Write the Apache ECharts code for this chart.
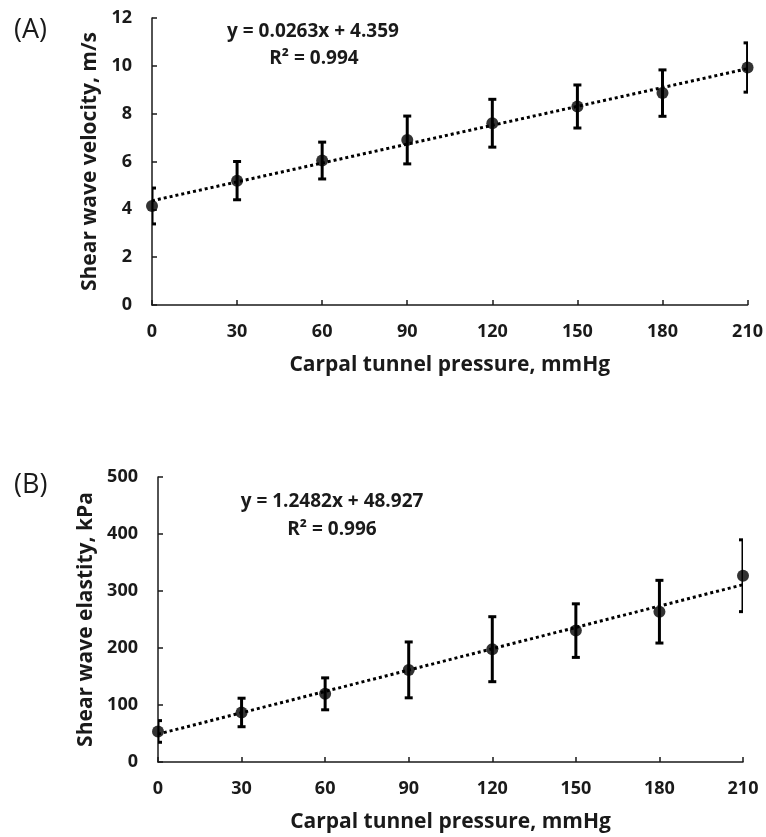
<!DOCTYPE html>
<html><head><meta charset="utf-8">
<script src="https://cdn.jsdelivr.net/npm/echarts@6/dist/echarts.min.js"></script>
<style>html,body{margin:0;padding:0;background:#fff}#c{width:766px;height:837px}</style>
</head><body><div id="c"></div>
<script>
// ---- data ----
const pressure = [0, 30, 60, 90, 120, 150, 180, 210];
const velocityMean = [4.14, 5.2, 6.04, 6.9, 7.6, 8.3, 8.86, 9.93];
const velocitySD = [0.75, 0.8, 0.77, 1.0, 1.0, 0.9, 0.97, 1.03];
const elasticityMean = [53.6, 86.9, 119.6, 161.6, 197.9, 230.5, 263.7, 326.8];
const elasticitySD = [19, 25, 28, 49, 57, 47, 55, 63];
const trendA = [0.0263, 4.359];   // slope, intercept
const trendB = [1.2482, 48.927];
const eqA = ['y = 0.0263x + 4.359', 'R² = 0.994'];
const eqB = ['y = 1.2482x + 48.927', 'R² = 0.996'];
const xTitle = 'Carpal tunnel pressure, mmHg';
const yTitleA = 'Shear wave velocity, m/s';
const yTitleB = 'Shear wave elastity, kPa';

const FONT = '"Open Sans"';
const pts = (m) => pressure.map((x, i) => [x, m[i]]);
const errs = (m, s) => pressure.map((x, i) => [x, m[i] - s[i], m[i] + s[i]]);
const trend = (t) => [[pressure[0], t[0]*pressure[0]+t[1]], [pressure[pressure.length-1], t[0]*pressure[pressure.length-1]+t[1]]];

function errItem(params, api) {
  const x = api.value(0), lo = api.value(1), hi = api.value(2);
  const p1 = api.coord([x, hi]), p2 = api.coord([x, lo]);
  const w = 4;
  const style = { stroke: '#000', lineWidth: 3 };
  return { type: 'group', children: [
    { type: 'line', shape: { x1: p1[0], y1: p1[1], x2: p2[0], y2: p2[1] }, style },
    { type: 'line', shape: { x1: p1[0]-w, y1: p1[1], x2: p1[0]+w, y2: p1[1] }, style },
    { type: 'line', shape: { x1: p2[0]-w, y1: p2[1], x2: p2[0]+w, y2: p2[1] }, style }
  ]};
}

const axisLine = { show: true, lineStyle: { color: '#1a1a1a', width: 1.5 } };
const axisTick = { show: true, inside: true, length: 5, lineStyle: { color: '#1a1a1a', width: 1.5 } };
const tickLabel = { color: '#1a1a1a', fontFamily: FONT, fontWeight: 'bold', fontSize: 18 };
const nameStyle = { color: '#1a1a1a', fontFamily: FONT, fontWeight: 'bold', fontSize: 21 };

function xAxis(gi) {
  return { type: 'value', gridIndex: gi, min: 0, max: 210, interval: 30,
    axisLine, axisTick, splitLine: { show: false },
    axisLabel: Object.assign({ margin: 18 }, tickLabel),
    name: xTitle, nameLocation: 'middle', nameGap: 50, nameTextStyle: nameStyle };
}
function yAxis(gi, max, interval, name, gap) {
  return { type: 'value', gridIndex: gi, min: 0, max, interval,
    axisLine, axisTick, splitLine: { show: false },
    axisLabel: Object.assign({ margin: 20 }, tickLabel),
    name, nameLocation: 'middle', nameGap: gap, nameTextStyle: nameStyle };
}

function seriesSet(gi, mean, sd, t) {
  return [
    { type: 'line', xAxisIndex: gi, yAxisIndex: gi, data: trend(t), symbol: 'none',
      lineStyle: { color: '#000', width: 3, type: [3, 3] }, z: 2, silent: true },
    { type: 'custom', xAxisIndex: gi, yAxisIndex: gi, data: errs(mean, sd), renderItem: errItem, clip: true, z: 3 },
    { type: 'scatter', xAxisIndex: gi, yAxisIndex: gi, data: pts(mean), symbol: 'circle', symbolSize: 12,
      itemStyle: { color: '#000' }, z: 4 }
  ];
}

const eqStyle = { fontFamily: FONT, fontWeight: 'bold', fontSize: 19, fill: '#1a1a1a' };
const panelStyle = { fontFamily: FONT, fontWeight: 'normal', fontSize: 27, fill: '#1a1a1a' };

const chart = echarts.init(document.getElementById('c'), null, { renderer: 'canvas' });
chart.setOption({
  backgroundColor: '#fff',
  animation: false,
  grid: [
    { left: 152, top: 18, width: 597, height: 287 },
    { left: 158, top: 477, width: 585, height: 285 }
  ],
  xAxis: [xAxis(0), xAxis(1)],
  yAxis: [yAxis(0, 12, 2, yTitleA, 48), yAxis(1, 500, 100, yTitleB, 60)],
  graphic: [
    { type: 'text', x: 14, y: 30, style: Object.assign({ text: '(A)', verticalAlign: 'middle' }, panelStyle) },
    { type: 'text', x: 14, y: 485, style: Object.assign({ text: '(B)', verticalAlign: 'middle' }, panelStyle) },
    { type: 'text', x: 313, y: 32, style: Object.assign({ text: eqA[0], align: 'center', verticalAlign: 'middle' }, eqStyle) },
    { type: 'text', x: 314, y: 59, style: Object.assign({ text: eqA[1], align: 'center', verticalAlign: 'middle' }, eqStyle) },
    { type: 'text', x: 332, y: 502, style: Object.assign({ text: eqB[0], align: 'center', verticalAlign: 'middle' }, eqStyle) },
    { type: 'text', x: 332, y: 530, style: Object.assign({ text: eqB[1], align: 'center', verticalAlign: 'middle' }, eqStyle) }
  ],
  series: [...seriesSet(0, velocityMean, velocitySD, trendA), ...seriesSet(1, elasticityMean, elasticitySD, trendB)]
});
</script></body></html>
